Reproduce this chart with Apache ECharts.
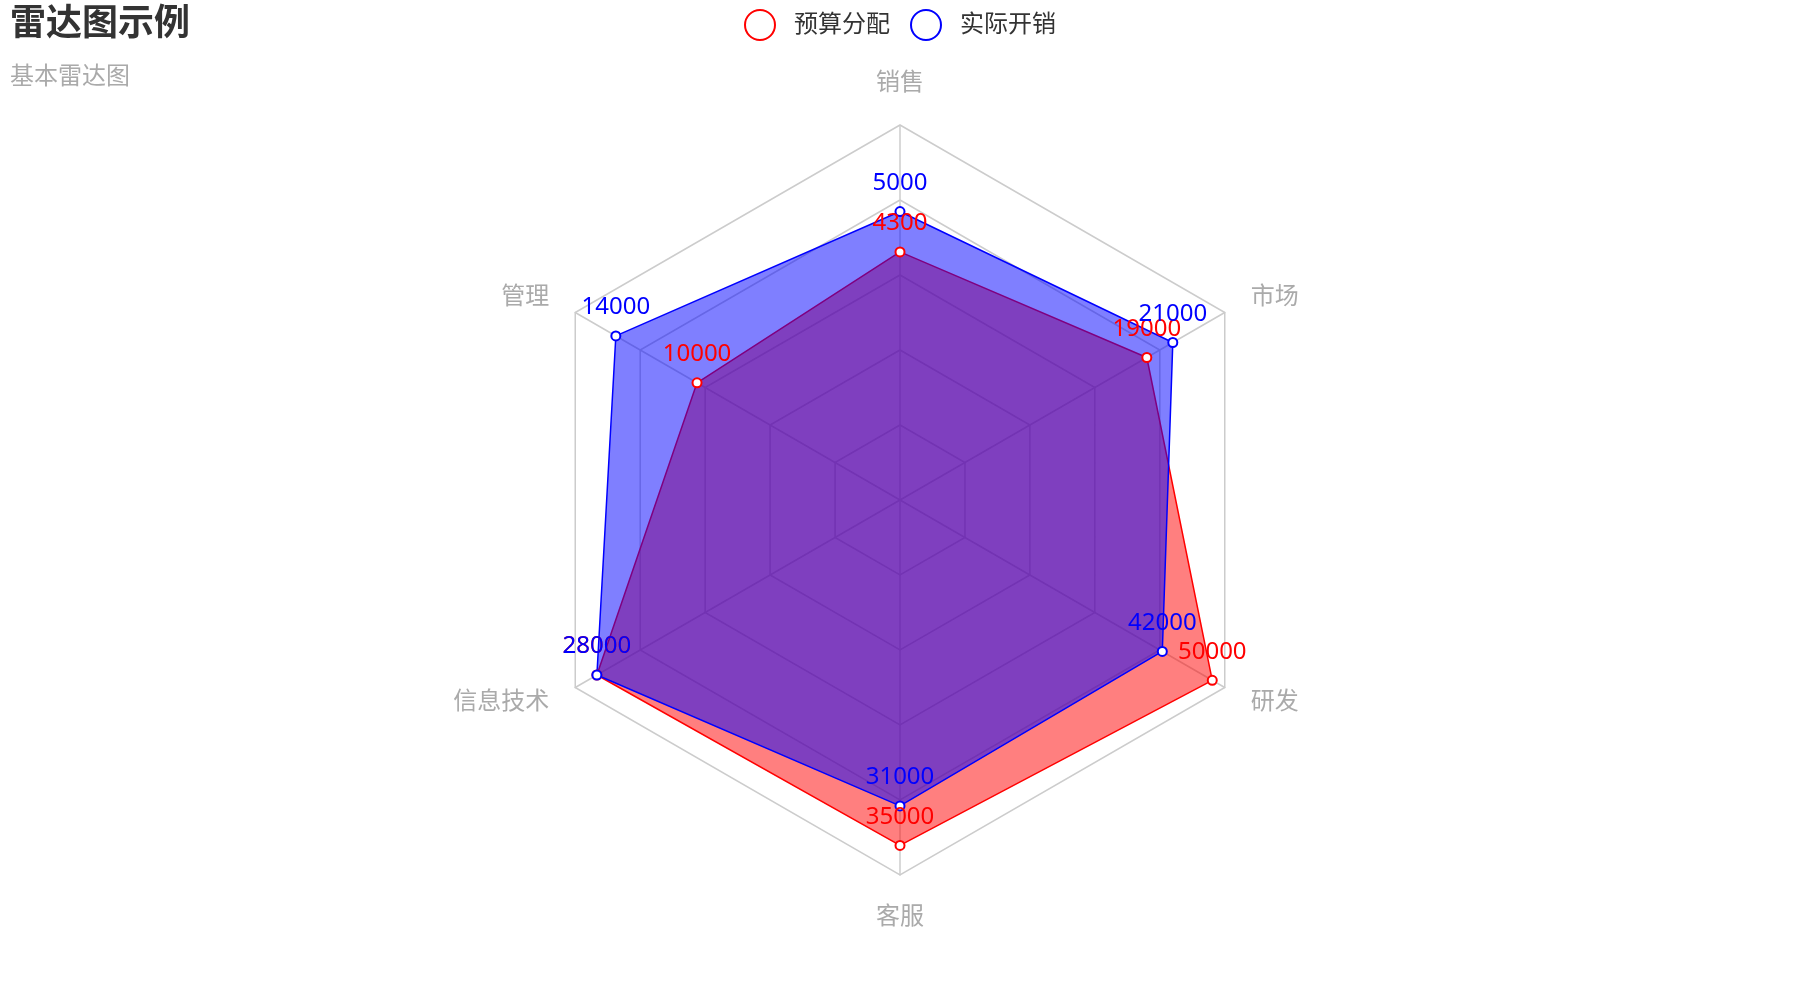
<!DOCTYPE html>
<html>
<head>
<meta charset="utf-8">
<script src="https://cdn.jsdelivr.net/npm/echarts@6/dist/echarts.min.js"></script>
<style>html,body{margin:0;padding:0;background:#fff}#main{width:1800px;height:1000px}</style>
</head>
<body>
<div id="main"></div>
<script>
const indicatorNames = ['销售', '管理', '信息技术', '客服', '研发', '市场'];
const indicatorMax = [6500, 16000, 30000, 38000, 52000, 25000];
const budget = [4300, 10000, 28000, 35000, 50000, 19000];
const actual = [5000, 14000, 28000, 31000, 42000, 21000];
const seriesNames = ['预算分配', '实际开销'];

const font = '"Noto Sans", "Noto Sans CJK SC", sans-serif';
const chart = echarts.init(document.getElementById('main'));
chart.setOption({
  textStyle: { fontFamily: font },
  title: {
    text: '雷达图示例', subtext: '基本雷达图', left: 5, top: 2,
    textStyle: { fontSize: 36, fontWeight: 'bold', color: '#333', fontFamily: font },
    subtextStyle: { fontSize: 24, color: '#aaa', fontFamily: font },
    itemGap: 22
  },
  legend: {
    data: seriesNames, top: 4, left: 'center',
    icon: 'emptyCircle',
    itemWidth: 30, itemHeight: 30, itemGap: 20,
    textStyle: { fontSize: 24, color: '#333', fontFamily: font, padding: [0, 0, 0, 14] }
  },
  radar: {
    center: ['50%', '50%'], radius: '75%',
    nameGap: 30,
    indicator: indicatorNames.map((n, i) => ({ name: n, max: indicatorMax[i] })),
    axisName: { color: '#aaa', fontSize: 24, fontFamily: font },
    splitArea: { show: false },
    splitLine: { lineStyle: { color: '#ccc', width: 1.5 } },
    axisLine: { lineStyle: { color: '#ccc', width: 1.5 } }
  },
  series: [{
    type: 'radar',
    symbol: 'emptyCircle', symbolSize: 9,
    data: [
      { value: budget, name: seriesNames[0],
        itemStyle: { color: 'red' }, lineStyle: { color: 'red', width: 1.5 },
        areaStyle: { color: 'red', opacity: 0.5 },
        label: { show: true, color: 'red', fontSize: 24, fontFamily: font, distance: 11 } },
      { value: actual, name: seriesNames[1],
        itemStyle: { color: 'blue' }, lineStyle: { color: 'blue', width: 1.5 },
        areaStyle: { color: 'blue', opacity: 0.5 },
        label: { show: true, color: 'blue', fontSize: 24, fontFamily: font, distance: 11 } }
    ]
  }]
});
</script>
</body>
</html>
